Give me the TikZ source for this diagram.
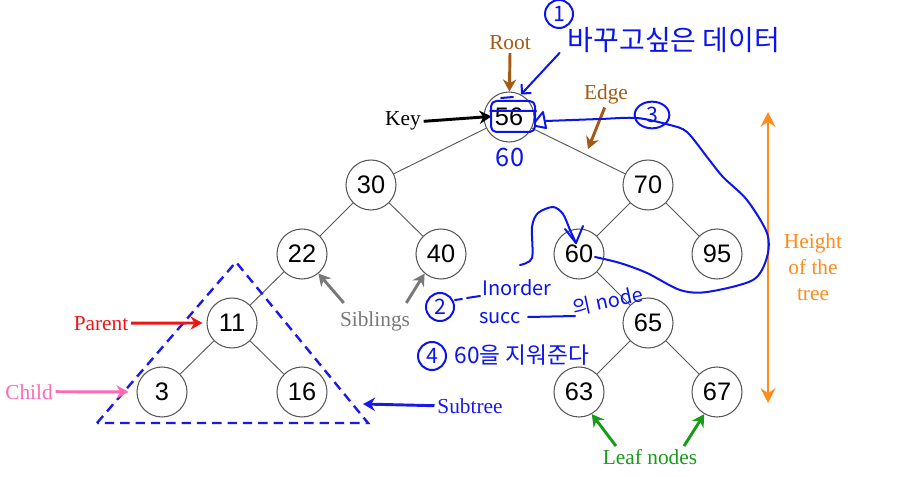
\documentclass[tikz,border=0pt]{standalone}
\usepackage{fontspec}
\setmainfont{Liberation Serif}
\newfontfamily\numfont{Liberation Sans}
\newfontfamily\handfont{Noto Sans CJK KR}
\usetikzlibrary{arrows.meta,shapes.geometric}
\definecolor{rootbrown}{RGB}{165,90,20}
\definecolor{htorange}{RGB}{255,140,26}
\definecolor{childpink}{RGB}{255,105,180}
\definecolor{parentred}{RGB}{240,20,20}
\definecolor{leafgreen}{RGB}{25,155,25}
\definecolor{sibgray}{RGB}{120,120,120}
\definecolor{subblue}{RGB}{25,25,235}
\definecolor{inkblue}{RGB}{10,20,235}
\tikzset{
  treenode/.style={circle,draw=black!65,line width=0.8pt,fill=white,
    minimum size=37.5pt,inner sep=0pt,font=\numfont\fontsize{19}{21}\selectfont},
  treeedge/.style={draw=black!65,line width=0.7pt},
  lbl/.style={inner sep=2pt,font=\fontsize{16}{19.5}\selectfont},
  lblarrow/.style={line width=2.2pt,-{Stealth[length=9pt,width=10pt]}},
  ink/.style={inkblue,line width=1.5pt,line cap=round,line join=round},
  inktext/.style={inkblue,inner sep=0pt,font=\handfont\fontsize{#1}{#1}\selectfont},
  inkcirc/.style={ink,draw,circle,minimum size=21pt,inner sep=0pt,
    font=\handfont\fontsize{16}{16}\selectfont}
}
\begin{document}
\begin{tikzpicture}[x=0.75pt,y=-0.75pt]
 \useasboundingbox (0,0) rectangle (920,477);
 % tree
 \node[treenode] (n56) at (509,117) {56};
 \node[treenode] (n30) at (371,185) {30};
 \node[treenode] (n70) at (648,185) {70};
 \node[treenode] (n22) at (302,254) {22};
 \node[treenode] (n40) at (441,254) {40};
 \node[treenode] (n60) at (579,254) {60};
 \node[treenode] (n95) at (717,254) {95};
 \node[treenode] (n11) at (232,323) {11};
 \node[treenode] (n65) at (648,323) {65};
 \node[treenode] (n3) at (162,392) {3};
 \node[treenode] (n16) at (302,392) {16};
 \node[treenode] (n63) at (579,392) {63};
 \node[treenode] (n67) at (717,392) {67};
 \foreach \a/\b in {56/30,56/70,30/22,30/40,70/60,70/95,22/11,60/65,11/3,11/16,65/63,65/67}
   \draw[treeedge] (n\a) -- (n\b);
 % subtree
 \coordinate (tl) at (97,423);
 \coordinate (tt) at (236,262);
 \coordinate (tr) at (368,423);
 \draw[subblue,line width=1.8pt,dash pattern=on 7pt off 4.5pt] (tl) -- (tt) -- (tr) -- cycle;
 % labels
 \node[lbl,rootbrown,anchor=base] (root) at (510,50) {Root};
 \draw[lblarrow,rootbrown] (root.south) -- (n56);
 \node[lbl,anchor=base] (key) at (403,126) {Key};
 \draw[lblarrow,black,shorten >=-6pt] (key.east) -- (n56.west);
 \node[lbl,rootbrown,anchor=base] (edge) at (606,100) {Edge};
 \coordinate (edgept) at (588,149);
 \draw[lblarrow,rootbrown] ([xshift=-1pt]edge.south) -- (edgept);
 \node[lbl,sibgray,anchor=base] (sibs) at (375,326) {Siblings};
 \draw[lblarrow,sibgray] ([xshift=5pt,yshift=4pt]sibs.north west) -- (n22.-50);
 \draw[lblarrow,sibgray] ([xshift=-5pt,yshift=4pt]sibs.north east) -- (n40.-130);
 \node[lbl,parentred,anchor=base] (parent) at (101,330) {Parent};
 \draw[lblarrow,parentred,shorten >=3pt] (parent.east) -- (n11.west);
 \node[lbl,childpink,anchor=base] (child) at (29,399) {Child};
 \draw[lblarrow,childpink,shorten >=6pt] (child.east) -- (n3.west);
 \node[lbl,subblue,anchor=base] (subtree) at (470,413) {Subtree};
 \coordinate (subpt) at (363,404);
 \draw[lblarrow,subblue] (subtree.west) -- (subpt);
 \node[lbl,leafgreen,anchor=base] (leaf) at (650,464) {Leaf nodes};
 \draw[lblarrow,leafgreen] ([xshift=12pt]leaf.north west) -- (n63.-60);
 \draw[lblarrow,leafgreen] ([xshift=-12pt]leaf.north east) -- (n67.-120);
 \node[lbl,htorange,align=center] (height) at (813,267) {Height\\of the\\tree};
 \coordinate (htop) at (768,112);
 \coordinate (hbot) at (768,403);
 \draw[htorange,line width=2.2pt,{Stealth[length=11pt,width=11pt]}-{Stealth[length=11pt,width=11pt]}] (htop) -- (hbot);
 % handwriting
 \node[inkcirc] (ink1) at (559,14) {1};
 \node[inktext=21] (note1) at (674,40) {바꾸고싶은 데이터};
 \draw[ink,-{Straight Barb[length=5pt]}] ([xshift=-6pt]note1.south west) -- (n56.62);
 \draw[ink,rounded corners=4pt] (491,101) rectangle (535,132);
 \draw[ink] (490,111) -- (536,111) (501,98) -- (513,97);
 \node[inktext=19] (new60) at (510,157) {60};
 \draw[ink] (535,122) -- (543,112) -- (546,128) -- (536,126);
 \draw[ink] plot[smooth] coordinates {(546,121) (600,119) (637,118) (670,125) (687,132)
   (707,157) (723,177) (747,200) (767,233) (767,257) (753,280) (707,292) (680,290)
   (647,273) (620,263) (595,257)};
 \node[inkcirc,ellipse,minimum width=26pt,minimum height=20pt] (ink3) at (652,115) {3};
 \draw[ink] plot[smooth] coordinates {(520,265) (532,258) (532,227) (538,213) (553,207)
   (563,214) (570,230) (576,243)};
 \draw[ink] (565,229) -- (576,243) -- (583,226);
 \node[inkcirc] (ink2) at (440,307) {2};
 \draw[ink] (455,300) -- (462,299) (467,298) -- (480,296);
 \node[inktext=15] (inorder) at (517,288) {Inorder};
 \node[inktext=15] (succ) at (500,318) {succ};
 \draw[ink] (528,317) -- (575,316);
 \node[inktext=15,rotate=12] (ofnode) at (608,301) {의 node};
 \node[inkcirc] (ink4) at (432,356) {4};
 \node[inktext=17] (note4) at (522,355) {60을 지워준다};
\end{tikzpicture}
\end{document}
